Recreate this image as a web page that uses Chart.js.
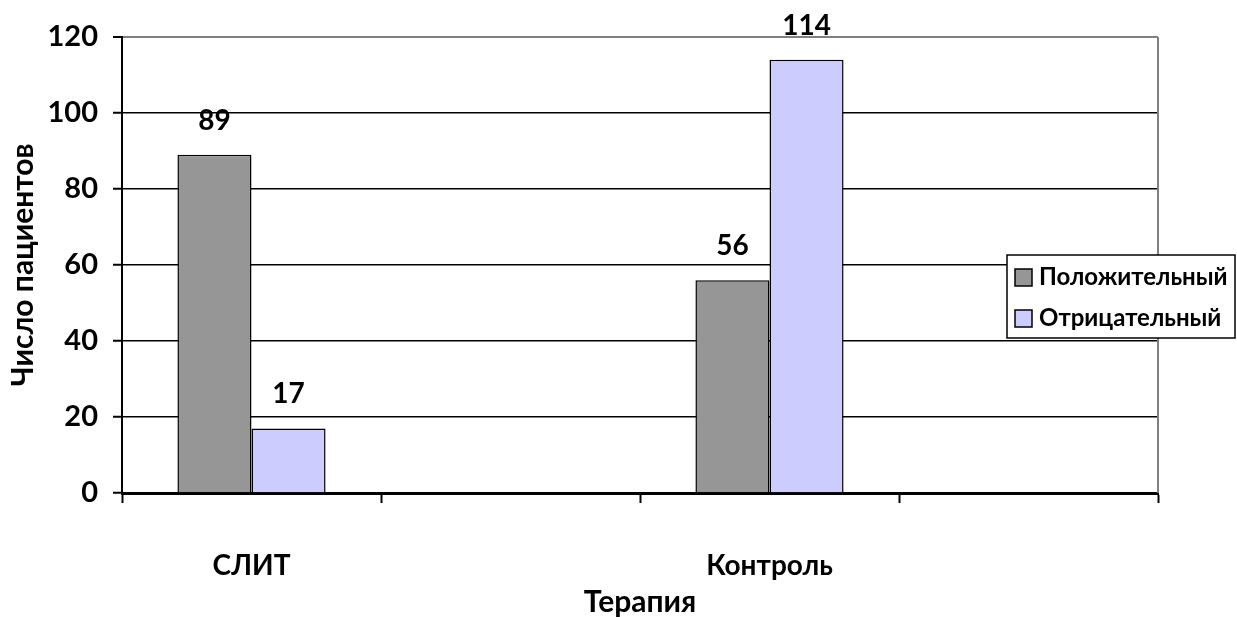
<!DOCTYPE html>
<html>
<head>
<meta charset="utf-8">
<script src="https://cdn.jsdelivr.net/npm/chart.js@4"></script>
<style>
  html, body { margin: 0; padding: 0; background: #fff; }
  canvas { display: block; }
</style>
</head>
<body>
<canvas id="myChart" width="1237" height="617"></canvas>
<script>
// data
const categories = ['СЛИТ', '', 'Контроль', ''];
const positive = [89, null, 56, null];
const negative = [17, null, 114, null];
const seriesNames = ['Положительный', 'Отрицательный'];
const yTicks = [0, 20, 40, 60, 80, 100, 120];

const FONT = 'Lato, "Open Sans", sans-serif';

// value labels above the bars
const valueLabels = {
  id: 'valueLabels',
  afterDatasetsDraw(chart) {
    const ctx = chart.ctx;
    ctx.save();
    ctx.font = 'bold 28px ' + FONT;
    ctx.fillStyle = '#000';
    ctx.textAlign = 'center';
    ctx.textBaseline = 'middle';
    chart.data.datasets.forEach((ds, i) => {
      chart.getDatasetMeta(i).data.forEach((bar, j) => {
        if (ds.data[j] == null) return;
        ctx.fillText(ds.data[j], bar.x, bar.y - 34);
      });
    });
    ctx.restore();
  }
};

// grey right frame + boxed legend overlapping the plot
const frameAndLegend = {
  id: 'frameAndLegend',
  afterDraw(chart) {
    const ctx = chart.ctx;
    const a = chart.chartArea;
    ctx.save();
    ctx.strokeStyle = '#808080';
    ctx.lineWidth = 2;
    ctx.beginPath();
    ctx.moveTo(a.right, a.top);
    ctx.lineTo(a.right, a.bottom);
    ctx.stroke();

    const bx = 1007, by = 255, bw = 228, bh = 83;
    ctx.fillStyle = '#fff';
    ctx.fillRect(bx, by, bw, bh);
    ctx.strokeStyle = '#000';
    ctx.lineWidth = 1.5;
    ctx.strokeRect(bx, by, bw, bh);

    ctx.font = 'bold 24px ' + FONT;
    ctx.textBaseline = 'middle';
    ctx.textAlign = 'left';
    chart.data.datasets.forEach((ds, i) => {
      const cy = by + 22 + i * 41;
      ctx.fillStyle = ds.backgroundColor;
      ctx.fillRect(bx + 8, cy - 8, 17, 17);
      ctx.lineWidth = 1.5;
      ctx.strokeRect(bx + 8, cy - 8, 17, 17);
      ctx.fillStyle = '#000';
      ctx.fillText(ds.label, bx + 32, cy);
    });
    ctx.restore();
  }
};

new Chart('myChart', {
  type: 'bar',
  data: {
    labels: categories,
    datasets: [{
      label: seriesNames[0],
      data: positive,
      backgroundColor: '#969696',
      borderColor: '#000',
      borderWidth: 1.5
    }, {
      label: seriesNames[1],
      data: negative,
      backgroundColor: '#CCCCFF',
      borderColor: '#000',
      borderWidth: 1.5
    }]
  },
  options: {
    responsive: false,
    animation: false,
    devicePixelRatio: 1,
    layout: { padding: { top: 37, right: 79, left: 0, bottom: 0 } },
    plugins: {
      legend: { display: false },
      tooltip: { enabled: false }
    },
    datasets: {
      bar: { barPercentage: 1, categoryPercentage: 0.572 }
    },
    scales: {
      x: {
        offset: true,
        grid: {
          offset: true,
          drawOnChartArea: false,
          drawTicks: true,
          tickLength: 10,
          tickColor: '#000',
          tickWidth: 2
        },
        border: { display: true, color: '#000', width: 3 },
        ticks: {
          color: '#000',
          font: { family: FONT, size: 28, weight: 'bold' },
          padding: 46,
          maxRotation: 0
        },
        title: {
          display: true,
          text: 'Терапия',
          color: '#000',
          font: { family: FONT, size: 30, weight: 'bold' },
          padding: { top: 0, bottom: -3 }
        },
        afterFit(scale) { scale.height = 124; }
      },
      y: {
        min: 0,
        max: 120,
        afterBuildTicks(scale) { scale.ticks = yTicks.map(v => ({ value: v })); },
        grid: {
          color: ctx => (ctx.tick && ctx.tick.value === 120) ? '#808080' : '#000',
          lineWidth: ctx => (ctx.tick && ctx.tick.value === 120) ? 2 : 1.5,
          tickLength: 9,
          tickColor: '#000',
          tickWidth: 2
        },
        border: { display: true, color: '#000', width: 2 },
        ticks: {
          color: '#000',
          font: { family: FONT, size: 29, weight: 'bold' },
          padding: 15
        },
        title: {
          display: true,
          text: 'Число пациентов',
          color: '#000',
          font: { family: FONT, size: 30, weight: 'bold' },
          padding: { top: 5, bottom: 0 }
        },
        afterFit(scale) { scale.width = 122; }
      }
    }
  },
  plugins: [valueLabels, frameAndLegend]
});
</script>
</body>
</html>
